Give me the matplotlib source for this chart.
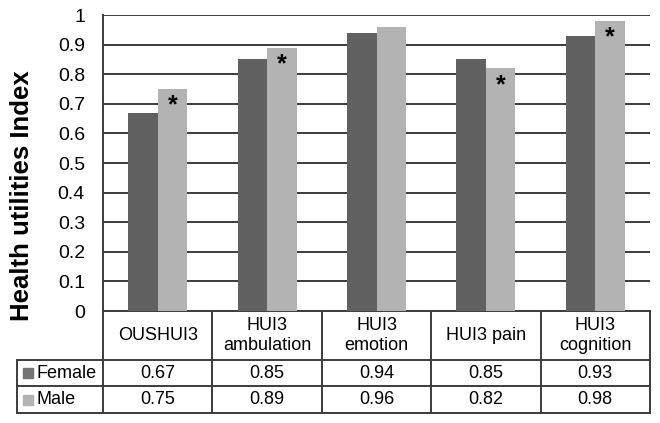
import numpy as np
import matplotlib.pyplot as plt
import matplotlib.transforms as mtransforms

plt.rcParams['font.family'] = ['Liberation Sans', 'DejaVu Sans']

# dados do grafico
categorias = ["OUSHUI3", "HUI3\nambulation", "HUI3\nemotion", "HUI3 pain", "HUI3\ncognition"]
female = [0.67, 0.85, 0.94, 0.85, 0.93]
male = [0.75, 0.89, 0.96, 0.82, 0.98]
female_txt = ["0.67", "0.85", "0.94", "0.85", "0.93"]
male_txt = ["0.75", "0.89", "0.96", "0.82", "0.98"]
significativo = [True, True, False, True, True]
series = ["Female", "Male"]

cor_f = "#616161"
cor_m = "#b3b3b3"
cor_linha = "#3c3c3c"

fig = plt.figure(figsize=(6.6, 4.23), dpi=100)
W, H = 660, 423
ax = fig.add_axes([103 / W, (H - 311) / H, 547 / W, 296 / H])

x = np.arange(len(categorias))
larg = 0.27
ax.bar(x - larg / 2, female, larg, color=cor_f, zorder=3)
ax.bar(x + larg / 2, male, larg, color=cor_m, zorder=3)

# asteriscos nas barras dos homens
for i in range(len(x)):
    if significativo[i]:
        ax.annotate("*", (x[i] + larg / 2, male[i]), xytext=(0, -12), textcoords="offset points",
                    ha="center", va="center", fontsize=18, fontweight="bold", zorder=4)

ax.set_xlim(-0.5, len(x) - 0.5)
ax.set_ylim(0, 1)
ax.set_yticks(np.arange(0, 1.01, 0.1))
ax.set_yticklabels(["0"] + ["%.1f" % v for v in np.arange(0.1, 0.95, 0.1)] + ["1"])
ax.tick_params(axis="y", length=0, pad=13, labelsize=14)
ax.set_xticks([])
ax.grid(axis="y", color=cor_linha, lw=1.4, zorder=1)
ax.set_axisbelow(True)
for s in ["top", "right", "bottom"]:
    ax.spines[s].set_visible(False)
ax.spines["left"].set_color(cor_linha)
ax.spines["left"].set_linewidth(1.4)

fig.text(22 / W, (H - 196) / H, "Health utilities Index", rotation=90, ha="center", va="center",
         fontsize=18.5, fontweight="bold")

# tabela de dados por baixo do grafico
tr = mtransforms.blended_transform_factory(ax.transData, ax.transAxes)
def ypix(p):
    return (311 - p) / 296.0

x_esq = -0.5 - (103 - 17) / 109.4
x_dir = len(x) - 0.5
y0, y1, y2, y3 = ypix(311), ypix(360), ypix(386), ypix(413)

kw = dict(color=cor_linha, lw=1.4, transform=tr, clip_on=False)
for yy in [y1, y2, y3]:
    ax.plot([x_esq, x_dir], [yy, yy], **kw)
ax.plot([-0.5, x_dir], [y0, y0], **kw)
for xx in np.arange(-0.5, len(x), 1.0):
    ax.plot([xx, xx], [y0, y3], **kw)
ax.plot([x_esq, x_esq], [y1, y3], **kw)

for i in range(len(x)):
    ax.text(x[i], (y0 + y1) / 2, categorias[i], transform=tr, ha="center", va="center",
            fontsize=13, linespacing=1.2)
    ax.text(x[i], (y1 + y2) / 2, female_txt[i], transform=tr, ha="center", va="center", fontsize=13)
    ax.text(x[i], (y2 + y3) / 2, male_txt[i], transform=tr, ha="center", va="center", fontsize=13)

for yy, nome, cor in [((y1 + y2) / 2, series[0], "#737373"), ((y2 + y3) / 2, series[1], cor_m)]:
    ax.plot([x_esq + 0.1], [yy], marker="s", ms=7.5, color=cor, transform=tr, clip_on=False)
    ax.text(x_esq + 0.18, yy, nome, transform=tr, ha="left", va="center", fontsize=13)

fig.savefig("out.png", dpi=100)
